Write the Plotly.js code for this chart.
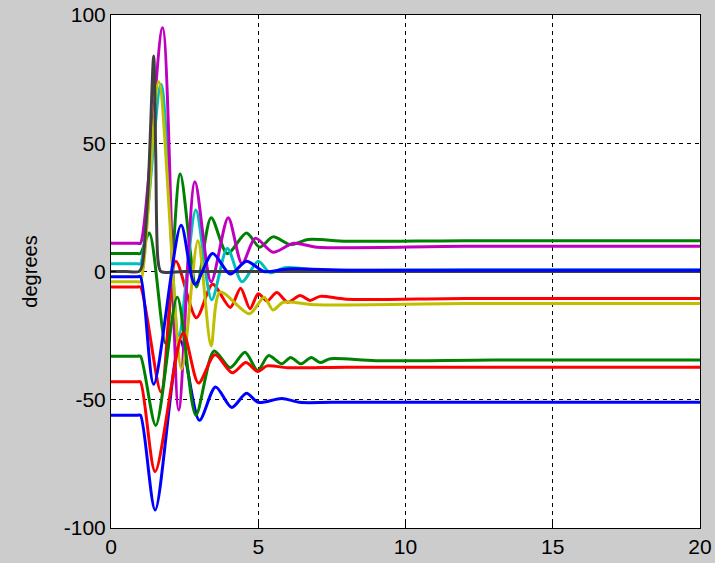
<!DOCTYPE html>
<html>
<head>
<meta charset="utf-8">
<script src="https://cdn.plot.ly/plotly-3.0.1.min.js"></script>
<style>html,body{margin:0;padding:0;background:#cccccc;}#chart{width:715px;height:563px;}</style>
</head>
<body>
<div id="chart"></div>
<script>
// Series (time in s, angle in degrees)
const blueLowT  = [0, 0.9, 1.0, 1.5, 2.35, 3.0, 3.55, 4.1, 4.6, 5.0, 5.8, 6.4, 7.5, 12, 20];
const blueLowY  = [-56, -56, -56, -93, -27, -58, -45, -53, -47.5, -51, -49.5, -51, -51, -51, -51];

const greenHighT = [0, 0.9, 1.0, 1.3, 1.85, 2.35, 2.9, 3.4, 3.95, 4.6, 5.05, 5.5, 6.1, 6.7, 8, 12, 20];
const greenHighY = [7, 7, 7, 15, -28, 38, -6, 21, 7, 15, 9.5, 13.5, 10.5, 12.5, 11.8, 12, 12];

const redHighT = [0, 0.9, 1.0, 1.7, 2.2, 2.9, 3.45, 4.05, 4.4, 4.72, 5.0, 5.3, 5.63, 6.0, 6.42, 6.76, 7.1, 8, 12, 20];
const redHighY = [-6, -6, -6, -47, 4, -18, -5, -14, -6.5, -14.5, -8.7, -11.5, -8.2, -12, -9.4, -11.3, -9.7, -10.8, -10.5, -10.5];

const cyanT = [0, 0.9, 1.0, 1.7, 2.3, 2.88, 3.42, 3.95, 4.45, 5.0, 5.4, 5.9, 7, 12, 20];
const cyanY = [3, 3, 3, 73, -25, 24, -11, 9, -4, 4, -0.5, 1.5, 0.6, 0.7, 0.7];

const magentaT = [0, 0.9, 1.0, 1.75, 2.3, 2.85, 3.4, 3.98, 4.45, 4.9, 5.5, 6.2, 7, 12, 20];
const magentaY = [11, 11, 11, 95, -54, 35, -4, 21, 3, 13, 7.5, 11, 9.5, 9.8, 9.8];

const yellowT = [0, 0.9, 1.0, 1.62, 2.4, 2.95, 3.4, 3.7, 4.7, 5.2, 5.5, 5.85, 7, 12, 20];
const yellowY = [-4, -4, -4, 74, -38, 12, -29, -8, -16.5, -10, -15, -12, -13, -12.5, -12.5];

const blackT = [0, 0.5, 0.95, 1.05, 1.25, 1.45, 1.52, 1.6, 1.7, 2.5, 5, 10, 15, 20];
const blackY = [0, 0, 0, 2, 30, 84, 45, 4, 0, 0, 0, 0, 0, 0];

const blueHighT = [0, 0.9, 1.0, 1.45, 2.38, 2.85, 3.45, 4.05, 4.6, 5.2, 6, 8, 12, 20];
const blueHighY = [-2, -2, -2, -44, 18, -5, 7, -1, 4, 0, 1, 0.5, 0.5, 0.5];

const greenLowT = [0, 0.9, 1.0, 1.52, 2.25, 2.88, 3.5, 4.05, 4.55, 4.98, 5.35, 5.8, 6.1, 6.45, 6.8, 7.1, 7.45, 9, 13, 20];
const greenLowY = [-33, -33, -33, -60, -10, -56, -31, -37.5, -31.5, -38.6, -32.8, -36, -33.5, -36, -33.5, -35.5, -34, -34.8, -34.5, -34.5];

const redLowT = [0, 0.9, 1.0, 1.5, 2.45, 2.97, 3.53, 4.12, 4.58, 4.98, 5.3, 6, 8, 12, 20];
const redLowY = [-43, -43, -43, -78, -24, -43.5, -32.5, -39.5, -35.5, -39, -36.8, -37.5, -37.3, -37.3, -37.3];

const xTicks = [0, 5, 10, 15, 20];
const yTicks = [-100, -50, 0, 50, 100];

const series = [
  [blueLowT, blueLowY, '#0000ff'],
  [greenHighT, greenHighY, '#008000'],
  [redHighT, redHighY, '#ff0000'],
  [cyanT, cyanY, '#00bfbf'],
  [magentaT, magentaY, '#bf00bf'],
  [yellowT, yellowY, '#bfbf00'],
  [blackT, blackY, '#404040'],
  [blueHighT, blueHighY, '#0000ff'],
  [greenLowT, greenLowY, '#008000'],
  [redLowT, redLowY, '#ff0000']
];

const traces = series.map(s => ({
  x: s[0], y: s[1], type: 'scatter', mode: 'lines',
  line: {color: s[2], width: 3, shape: 'spline', smoothing: 0.8},
  showlegend: false, hoverinfo: 'skip'
}));

const font = {family: 'Liberation Sans, Arial, sans-serif', color: '#000000', size: 21};

const layout = {
  width: 715, height: 563,
  paper_bgcolor: '#cccccc', plot_bgcolor: '#ffffff',
  margin: {l: 111, r: 15, t: 15, b: 35},
  font: font,
  showlegend: false,
  xaxis: {
    range: [0, 20], tickvals: xTicks, ticktext: xTicks.map(String),
    showgrid: true, gridcolor: '#000000', gridwidth: 1, griddash: '4px,4px',
    zeroline: false, showline: true, mirror: true, linecolor: '#000000', linewidth: 1,
    ticks: 'inside', ticklen: 5, tickcolor: '#000000',
    tickfont: font, automargin: false
  },
  yaxis: {
    range: [-100, 100], tickvals: yTicks, ticktext: yTicks.map(String),
    showgrid: true, gridcolor: '#000000', gridwidth: 1, griddash: '4px,4px',
    zeroline: false, showline: true, mirror: true, linecolor: '#000000', linewidth: 1,
    ticks: 'inside', ticklen: 5, tickcolor: '#000000',
    tickfont: font, automargin: false,
    title: {text: 'degrees', font: {family: font.family, size: 20, color: '#000000'}, standoff: 20}
  }
};

Plotly.newPlot('chart', traces, layout, {staticPlot: true, displayModeBar: false});
</script>
</body>
</html>
